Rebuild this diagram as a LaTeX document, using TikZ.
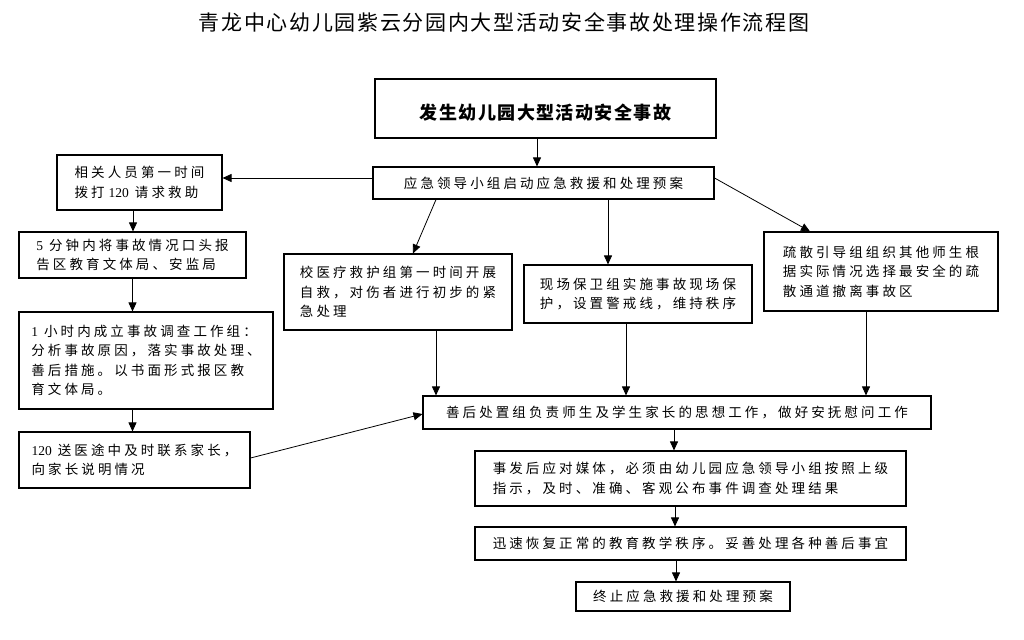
\documentclass[tikz,border=0pt]{standalone}
\usepackage{fontspec}
\setmainfont{Liberation Serif}
\newfontfamily\boxfont{Noto Sans CJK SC}[LetterSpace=23]
\newfontfamily\headfont{Noto Sans CJK SC}[LetterSpace=8]
\newfontfamily\dg{Liberation Serif}
\usepackage{tikz}
\usetikzlibrary{calc}
\usetikzlibrary{arrows.meta}

\begin{document}
\begin{tikzpicture}[x=1pt, y=-1pt, >={Triangle[length=9pt, width=8pt]},
  flowbox/.style={draw, line width=1.1pt, align=left, inner sep=0pt, font=\boxfont\fontsize{13.5}{19.5}\selectfont},
  link/.style={->, line width=0.8pt}]

\useasboundingbox (0,0) rectangle (1024,639);

\node[font=\headfont\fontsize{21}{24}\selectfont] (title) at (504,22) {青龙中心幼儿园紫云分园内大型活动安全事故处理操作流程图};

\node[flowbox, minimum width=341, minimum height=59, font=\headfont\bfseries\fontsize{18}{22}\selectfont] (start) at (545.5,108.5) {\raisebox{-4.5pt}[\height][\depth]{发生幼儿园大型活动安全事故}};
\node[flowbox, minimum width=341, minimum height=32] (plan) at (543.5,183) {应急领导小组启动应急救援和处理预案};

\node[flowbox, minimum width=165, minimum height=55] (call) at (139.5,182.5) {相关人员第一时间\\拨打\hspace{4pt}{\dg 120}\hspace{6pt}请求救助};
\node[flowbox, minimum width=227, minimum height=46] (report) at (132.5,255) {{\dg 5}\hspace{6pt}分钟内将事故情况口头报\\告区教育文体局、安监局};
\node[flowbox, minimum width=254, minimum height=97] (team) at (146,360.5) {{\dg 1}\hspace{6pt}小时内成立事故调查工作组：\\分析事故原因，落实事故处理、\\善后措施。以书面形式报区教\\育文体局。};
\node[flowbox, minimum width=231, minimum height=56] (parent) at (134.5,460) {{\dg 120}\hspace{6pt}送医途中及时联系家长，\\向家长说明情况};

\node[flowbox, minimum width=228, minimum height=76] (medic) at (398,292) {校医疗救护组第一时间开展\\自救，对伤者进行初步的紧\\急处理};
\node[flowbox, minimum width=228, minimum height=58] (guard) at (638,294) {现场保卫组实施事故现场保\\护，设置警戒线，维持秩序};
\node[flowbox, minimum width=234, minimum height=79] (evac) at (881,271.5) {疏散引导组组织其他师生根\\据实际情况选择最安全的疏\\散通道撤离事故区};

\node[flowbox, minimum width=508, minimum height=33] (care) at (677,412.5) {善后处置组负责师生及学生家长的思想工作，做好安抚慰问工作};
\node[flowbox, minimum width=431, minimum height=55] (media) at (690.5,478.5) {事发后应对媒体，必须由幼儿园应急领导小组按照上级\\指示，及时、准确、客观公布事件调查处理结果};
\node[flowbox, minimum width=431, minimum height=33] (resume) at (690.5,543.5) {迅速恢复正常的教育教学秩序。妥善处理各种善后事宜};
\node[flowbox, minimum width=214, minimum height=29] (stop) at (683,596.5) {终止应急救援和处理预案};

\draw[link] ($(start.south)+(-8.5,0)$) -- ($(start.south |- plan.north)+(-8.5,0)$);
\draw[link] ($(plan.west)+(0,-5)$) -- ($(call.east)+(0,-4.5)$);
\draw[link] ($(call.south)+(-6.5,0)$) -- ($(call.south |- report.north)+(-6.5,0)$);
\draw[link] (report.south) -- (report.south |- team.north);
\draw[link] (team.south -| report.south) -- (parent.north -| report.south);
\draw[link] ($(parent.east)+(0,-2)$) -- ($(care.west)+(0,1.5)$);

\draw[link] ($(plan.south)+(-107.5,0)$) -- ($(medic.north)+(15,0)$);
\draw[link] ($(guard.north |- plan.south)+(-30,0)$) -- ($(guard.north)+(-30,0)$);
\draw[link] ($(plan.east)+(0,-5)$) -- ($(evac.north)+(-71,0)$);

\draw[link] ($(medic.south)+(38,0)$) -- ($(medic.south |- care.north)+(38,0)$);
\draw[link] ($(guard.south)+(-12,0)$) -- ($(guard.south |- care.north)+(-12,0)$);
\draw[link] ($(evac.south)+(-15,0)$) -- ($(evac.south |- care.north)+(-15,0)$);

\draw[link] ($(care.south)+(-3,0)$) -- ($(care.south |- media.north)+(-3,0)$);
\draw[link] ($(media.south)+(-15.5,0)$) -- ($(media.south |- resume.north)+(-15.5,0)$);
\draw[link] ($(resume.south)+(-14.5,0)$) -- ($(resume.south |- stop.north)+(-14.5,0)$);

\end{tikzpicture}
\end{document}
